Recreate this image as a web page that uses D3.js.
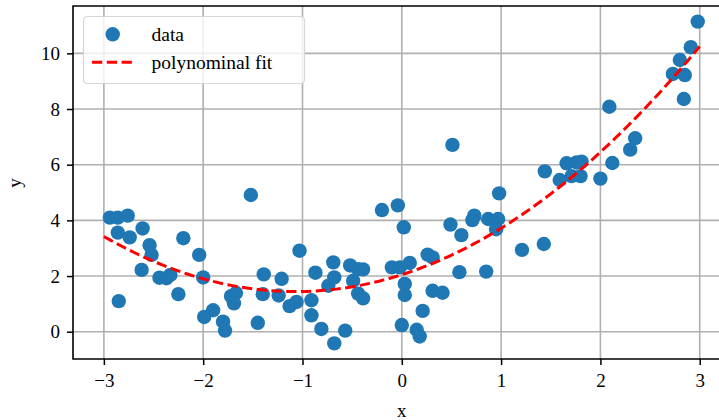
<html>
<head>
<meta charset="utf-8">
<script src="https://cdn.jsdelivr.net/npm/d3@7/dist/d3.min.js"></script>
<style>
  body{margin:0;background:#fff;}
  text{font-family:"Liberation Serif","DejaVu Serif",serif;}
</style>
</head>
<body>
<div id="chart"></div>
<script>
// scatter data
var xs = [-2.94,-2.86,-2.76,-2.86,-2.74,-2.61,-2.54,-2.52,-2.62,-2.85,
          -2.44,-2.37,-2.33,-2.25,-2.20,-2.04,-2.00,-1.99,-1.90,-1.80,
          -1.78,-1.72,-1.67,-1.69,-1.52,-1.39,-1.40,-1.45,-1.24,-1.21,
          -1.13,-1.06,-1.03,-0.91,-0.91,-0.87,-0.81,-0.74,-0.69,-0.68,
          -0.68,-0.57,-0.52,-0.49,-0.44,-0.39,-0.44,-0.39,-0.20,-0.10,
          -0.04,0.02,-0.02,0.08,0.03,0.03,0.00,0.15,0.18,0.21,
          0.26,0.31,0.31,0.41,0.49,0.60,0.58,0.51,0.71,0.73,
          0.87,0.97,0.95,0.98,0.85,1.21,1.43,1.44,1.59,1.66,
          1.76,1.81,1.71,1.80,2.00,2.12,2.09,2.30,2.35,2.73,
          2.85,2.80,2.84,2.91,2.98];
var ys = [4.10,4.10,4.17,3.56,3.39,3.71,3.11,2.76,2.22,1.10,
          1.94,1.92,2.04,1.35,3.36,2.76,1.95,0.53,0.77,0.36,
          0.04,1.28,1.39,1.02,4.91,2.06,1.35,0.32,1.30,1.90,
          0.92,1.07,2.91,1.13,0.59,2.12,0.10,1.65,2.49,1.95,
          -0.42,0.04,2.38,1.83,2.25,2.24,1.37,1.20,4.37,2.31,
          4.54,3.75,2.31,2.47,1.72,1.32,0.24,0.07,-0.17,0.75,
          2.77,2.67,1.47,1.40,3.85,3.47,2.14,6.71,4.01,4.17,
          4.05,4.05,3.68,4.97,2.16,2.94,3.15,5.76,5.45,6.05,
          6.08,6.11,5.59,5.59,5.50,6.06,8.08,6.54,6.95,9.26,
          9.22,9.76,8.36,10.22,11.14];
var xTicks = [-3,-2,-1,0,1,2,3];
var yTicks = [0,2,4,6,8,10];
var fitRange = [-3, 3];
var legendLabels = ["data", "polynominal fit"];

var W = 719, H = 420;
var pts = xs.map(function(d,i){ return {x:d, y:ys[i]}; });

// least squares quadratic, like np.polyfit(x, y, 2)
function polyfit2(px, py){
  var S = [0,0,0,0,0], T = [0,0,0];
  px.forEach(function(x,i){
    var p = 1;
    for(var k=0;k<5;k++){ S[k]+=p; if(k<3) T[k]+=p*py[i]; p*=x; }
  });
  var A = [[S[0],S[1],S[2],T[0]],[S[1],S[2],S[3],T[1]],[S[2],S[3],S[4],T[2]]];
  for(var c=0;c<3;c++){
    for(var r=c+1;r<3;r++){
      var f = A[r][c]/A[c][c];
      for(var k=c;k<4;k++) A[r][k]-=f*A[c][k];
    }
  }
  var s = [0,0,0];
  for(var r=2;r>=0;r--){
    var v = A[r][3];
    for(var k=r+1;k<3;k++) v-=A[r][k]*s[k];
    s[r] = v/A[r][r];
  }
  return s; // c0 + c1 x + c2 x^2
}
var coef = polyfit2(xs, ys);
var fitPts = d3.range(0,101).map(function(i){
  var x = fitRange[0] + (fitRange[1]-fitRange[0])*i/100;
  return {x:x, y:coef[0]+coef[1]*x+coef[2]*x*x};
});

var x = d3.scaleLinear().domain([-3.311, 3.311]).range([73, 730.6]);
var y = d3.scaleLinear().domain([-0.98, 11.70]).range([359, 6]);
var pL = 73, pR = 730.6, pT = 6, pB = 359;

var svg = d3.select("#chart").append("svg")
  .attr("width", W).attr("height", H);

svg.append("defs").append("clipPath").attr("id","plot")
  .append("rect").attr("x",pL).attr("y",pT)
  .attr("width",pR-pL).attr("height",pB-pT);

// grid
var grid = svg.append("g").attr("class","grid");
grid.selectAll(".gx").data(xTicks).enter().append("line")
  .attr("x1",function(d){return x(d)}).attr("x2",function(d){return x(d)})
  .attr("y1",pT).attr("y2",pB)
  .attr("stroke","#b0b0b0").attr("stroke-width",1.6);
grid.selectAll(".gy").data(yTicks).enter().append("line")
  .attr("y1",function(d){return y(d)}).attr("y2",function(d){return y(d)})
  .attr("x1",pL).attr("x2",pR)
  .attr("stroke","#b0b0b0").attr("stroke-width",1.6);

var plot = svg.append("g").attr("clip-path","url(#plot)");
plot.selectAll(".dot").data(pts).enter().append("circle")
  .attr("class","dot")
  .attr("cx",function(d){return x(d.x)})
  .attr("cy",function(d){return y(d.y)})
  .attr("r",7.2)
  .attr("fill","#1f77b4");

var line = d3.line().x(function(d){return x(d.x)}).y(function(d){return y(d.y)});
plot.append("path").datum(fitPts)
  .attr("d",line)
  .attr("fill","none")
  .attr("stroke","#ff0000")
  .attr("stroke-width",3)
  .attr("stroke-dasharray","10.3,4.5");

// axes
var fmt = d3.format("d");
var xAxis = svg.append("g").attr("transform","translate(0,"+pB+")")
  .call(d3.axisBottom(x).tickValues(xTicks).tickSize(6).tickPadding(9).tickFormat(fmt));
var yAxis = svg.append("g").attr("transform","translate("+pL+",0)")
  .call(d3.axisLeft(y).tickValues(yTicks).tickSize(6).tickPadding(7).tickFormat(fmt));
[xAxis,yAxis].forEach(function(a){
  a.select(".domain").remove();
  a.selectAll(".tick line").attr("stroke","#000").attr("stroke-width",1.5);
  a.selectAll(".tick text").attr("fill","#000")
    .style("font-family","'Liberation Serif',serif").style("font-size","19px");
});

// spines
svg.append("path")
  .attr("d","M"+pR+","+pT+"H"+pL+"V"+pB+"H"+pR)
  .attr("fill","none").attr("stroke","#000").attr("stroke-width",1.6);

svg.append("text").attr("x",x(0)).attr("y",417)
  .attr("text-anchor","middle").style("font-size","19px").text("x");
svg.append("text").attr("transform","translate(21,183) rotate(-90)")
  .attr("text-anchor","middle").style("font-size","19px").text("y");

// legend
var lg = svg.append("g");
lg.append("rect").attr("x",83.5).attr("y",16.5).attr("width",221).attr("height",67)
  .attr("rx",4).attr("fill","#fff").attr("fill-opacity",0.8)
  .attr("stroke","#d6d6d6").attr("stroke-width",1.2);
lg.append("circle").attr("cx",112.7).attr("cy",34.3).attr("r",7.2).attr("fill","#1f77b4");
lg.append("line").attr("x1",92).attr("x2",134).attr("y1",62.3).attr("y2",62.3)
  .attr("stroke","#ff0000").attr("stroke-width",3).attr("stroke-dasharray","10.3,4.5");
lg.selectAll(".lt").data(legendLabels).enter().append("text")
  .attr("x",151.5).attr("y",function(d,i){return 40.5+i*28})
  .style("font-size","19.5px").attr("fill","#000").text(function(d){return d});
</script>
</body>
</html>
